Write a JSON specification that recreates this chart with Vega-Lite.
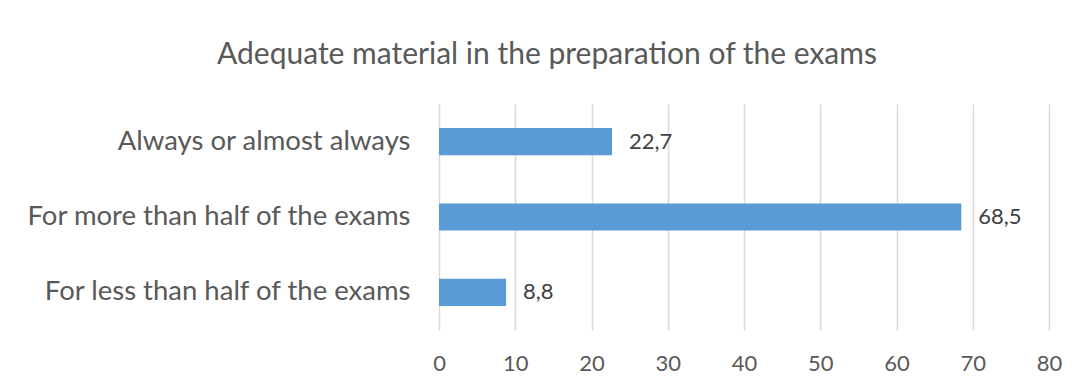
{
  "$schema": "https://vega.github.io/schema/vega-lite/v6.json",
  "autosize": {"type": "none"},
  "width": 610,
  "height": 226,
  "padding": {"left": 439, "top": 104, "right": 29, "bottom": 52},
  "background": "#FFFFFF",
  "config": {
    "view": {"stroke": null},
    "font": "Lato",
    "locale": {"number": {"decimal": ",", "thousands": ".", "grouping": [3], "currency": ["", " €"]}}
  },
  "title": {
    "text": "Adequate material in the preparation of the exams",
    "font": "Lato",
    "fontSize": 30,
    "fontWeight": "normal",
    "color": "#595959",
    "anchor": "middle",
    "baseline": "alphabetic",
    "offset": 10,
    "dx": -197
  },
  "data": {
    "values": [
      {"category": "Always or almost always", "value": 22.7},
      {"category": "For more than half of the exams", "value": 68.5},
      {"category": "For less than half of the exams", "value": 8.8}
    ]
  },
  "encoding": {
    "y": {
      "field": "category",
      "type": "nominal",
      "sort": null,
      "scale": {"paddingInner": 0.64, "paddingOuter": 0.32},
      "axis": {
        "title": null,
        "ticks": false,
        "domain": false,
        "labelPadding": 29,
        "labelFont": "Lato",
        "labelFontSize": 27.5,
        "labelColor": "#595959",
        "labelLimit": 500
      }
    },
    "x": {
      "field": "value",
      "type": "quantitative",
      "scale": {"domain": [0, 80], "nice": false},
      "axis": {
        "title": null,
        "values": [0, 10, 20, 30, 40, 50, 60, 70, 80],
        "ticks": false,
        "domain": false,
        "grid": true,
        "gridColor": "#D9D9D9",
        "gridWidth": 1.5,
        "labelPadding": 33,
        "labelFlush": false,
        "labelFont": "Lato",
        "labelFontSize": 22,
        "labelColor": "#595959",
        "labelBaseline": "middle",
        "format": "d"
      }
    }
  },
  "layer": [
    {"mark": {"type": "bar", "color": "#5B9BD5"}},
    {
      "mark": {"type": "text", "align": "left", "baseline": "middle", "dx": 17, "font": "Lato", "fontSize": 22, "color": "#404040"},
      "encoding": {"text": {"field": "value", "type": "quantitative", "format": ".1f"}}
    }
  ]
}
